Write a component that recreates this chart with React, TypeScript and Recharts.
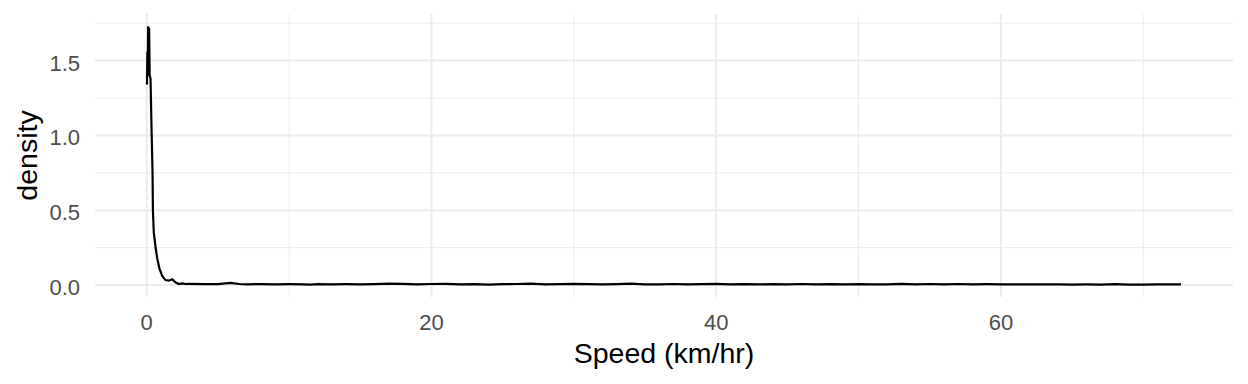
import React from 'react';
import { LineChart, Line, XAxis, YAxis, ReferenceLine } from 'recharts';

// Speed (km/hr) sample points of the density curve
const speedX: number[] = [
  0.02, 0.05, 0.08, 0.10, 0.14, 0.17, 0.21, 0.27, 0.34, 0.41, 0.44, 0.50, 0.62, 0.74, 0.90,
  1.09, 1.32, 1.55, 1.79, 2.02, 2.26, 2.49, 2.73,
  3, 4, 5, 5.9, 6.5, 7, 8, 9, 10, 11, 11.5, 12, 13, 14, 15, 16, 17, 18, 19, 20,
  21, 22, 23, 24, 25, 26, 27, 28, 29, 30, 31, 32, 33, 34, 35, 36, 37, 38, 39, 40,
  41, 42, 43, 44, 45, 46, 47, 48, 49, 50, 51, 52, 53, 54, 55, 56, 57, 58, 59, 60,
  61, 62, 63, 64, 65, 66, 67, 68, 69, 70, 71, 72, 72.65,
];

// density values
const densityY: number[] = [
  1.34, 1.56, 1.40, 1.73, 1.40, 1.72, 1.40, 1.38, 1.05, 0.76, 0.49, 0.35, 0.256, 0.178, 0.11,
  0.06, 0.033, 0.029, 0.038, 0.018, 0.007, 0.011, 0.007,
  0.008, 0.006, 0.006, 0.014, 0.007, 0.005, 0.006, 0.005, 0.006, 0.005, 0.003, 0.006, 0.005, 0.006, 0.005, 0.006, 0.009, 0.008, 0.004, 0.007,
  0.008, 0.005, 0.006, 0.003, 0.006, 0.007, 0.010, 0.005, 0.006, 0.008, 0.006, 0.004, 0.006, 0.009, 0.005, 0.005, 0.007, 0.004, 0.006, 0.008,
  0.005, 0.006, 0.004, 0.006, 0.005, 0.007, 0.004, 0.006, 0.004, 0.006, 0.005, 0.004, 0.008, 0.005, 0.007, 0.004, 0.007, 0.005, 0.006, 0.005,
  0.004, 0.005, 0.004, 0.004, 0.003, 0.004, 0.003, 0.006, 0.003, 0.003, 0.005, 0.004, 0.005,
];

const xTicks: number[] = [0, 20, 40, 60];
const xMinor: number[] = [10, 30, 50, 70];
const yTicks: number[] = [0, 0.5, 1, 1.5];
const yMinor: number[] = [0.25, 0.75, 1.25, 1.75];

const data = speedX.map((x, i) => ({ x, d: densityY[i] }));

const FONT = 'Arial, "Liberation Sans", sans-serif';
const GRID = '#EBEBEB';

const XTick = (props: any) => {
  const { x, payload } = props;
  return (
    <text x={x} y={330} textAnchor="middle" fontFamily={FONT} fontSize={22} fill="#4D4D4D">
      {String(payload.value)}
    </text>
  );
};

const YTick = (props: any) => {
  const { y, payload } = props;
  return (
    <text x={80} y={y + 10} textAnchor="end" fontFamily={FONT} fontSize={22} fill="#4D4D4D">
      {Number(payload.value).toFixed(1)}
    </text>
  );
};

const XTitle = (props: any) => {
  const vb = props.viewBox || { x: 95, y: 297, width: 1138, height: 87 };
  return (
    <text x={vb.x + vb.width / 2} y={vb.y + 66} textAnchor="middle" fontFamily={FONT} fontSize={28.5} fill="#000">
      Speed (km/hr)
    </text>
  );
};

const YTitle = (props: any) => {
  const vb = props.viewBox || { x: 0, y: 14, width: 95, height: 283 };
  const cy = vb.y + vb.height / 2;
  return (
    <text x={37} y={cy} transform={`rotate(-90, 37, ${cy})`} textAnchor="middle" fontFamily={FONT} fontSize={28.5} fill="#000">
      density
    </text>
  );
};

export default function App() {
  return (
    <div style={{ position: 'absolute', left: 0, top: 0, width: 1248, height: 384, background: '#fff' }}>
      <LineChart width={1248} height={384} data={data} margin={{ top: 14, right: 15, left: 0, bottom: 0 }}>
        {xMinor.map((v) => (
          <ReferenceLine key={'xm' + v} x={v} stroke={GRID} strokeWidth={1} />
        ))}
        {yMinor.map((v) => (
          <ReferenceLine key={'ym' + v} y={v} stroke={GRID} strokeWidth={1} />
        ))}
        {xTicks.map((v) => (
          <ReferenceLine key={'xM' + v} x={v} stroke={GRID} strokeWidth={2} />
        ))}
        {yTicks.map((v) => (
          <ReferenceLine key={'yM' + v} y={v} stroke={GRID} strokeWidth={2} />
        ))}
        <XAxis
          dataKey="x"
          type="number"
          domain={[-3.63, 76.3]}
          ticks={xTicks}
          allowDataOverflow
          axisLine={false}
          tickLine={false}
          height={87}
          tick={<XTick />}
          label={<XTitle />}
        />
        <YAxis
          type="number"
          domain={[-0.08, 1.8115]}
          ticks={yTicks}
          allowDataOverflow
          axisLine={false}
          tickLine={false}
          width={95}
          tick={<YTick />}
          label={<YTitle />}
        />
        <Line
          type="linear"
          dataKey="d"
          stroke="#000"
          strokeWidth={2.2}
          dot={false}
          activeDot={false}
          isAnimationActive={false}
        />
      </LineChart>
    </div>
  );
}
